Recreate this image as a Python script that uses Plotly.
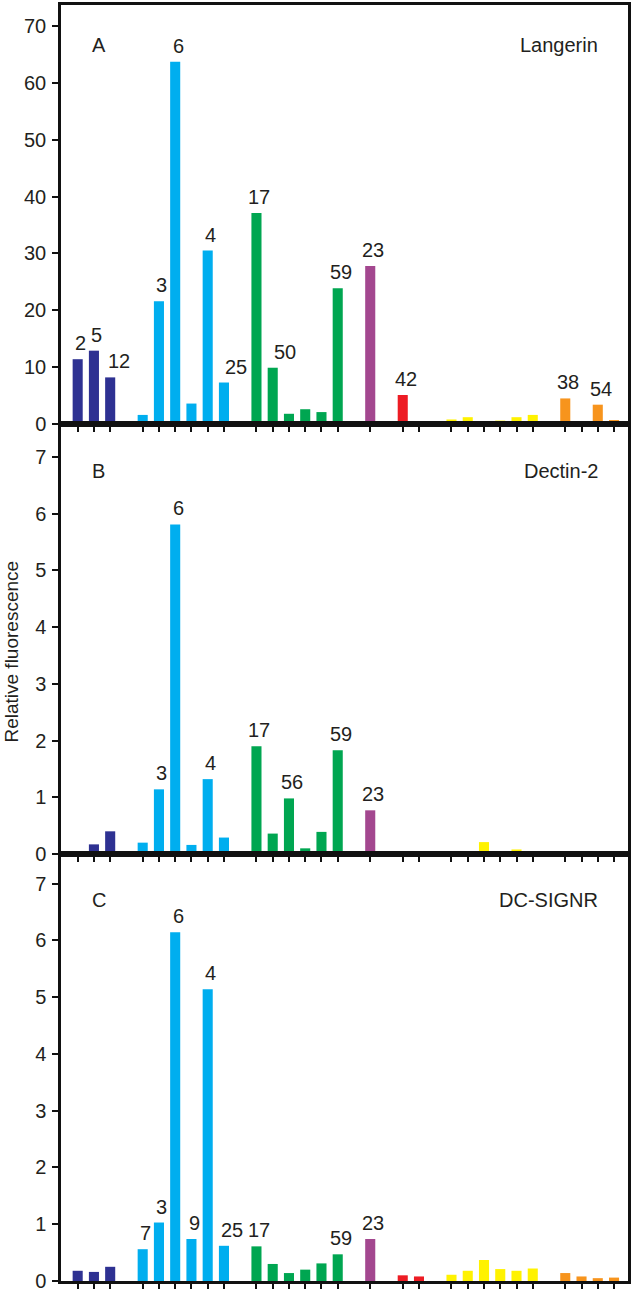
import plotly.graph_objects as go

# ---------------- data ----------------
group_sizes = [3, 6, 6, 1, 2, 6, 4]
group_colors = ["#2E3192", "#00AEEF", "#00A651", "#A3478F", "#ED1C24", "#FFF200", "#F7941D"]

panel_names = ["Langerin", "Dectin-2", "DC-SIGNR"]
panel_letters = ["A", "B", "C"]

langerin = [11.4, 12.9, 8.2, 1.6, 21.6, 63.7, 3.6, 30.5, 7.3, 37.1, 9.9, 1.8, 2.6, 2.1,
            23.9, 27.8, 5.1, 0.5, 0.8, 1.2, 0.4, 0.6, 1.2, 1.6, 4.5, 0.0, 3.4, 0.7]
dectin2 = [0.03, 0.17, 0.40, 0.20, 1.14, 5.81, 0.16, 1.32, 0.29, 1.90, 0.36, 0.98, 0.10, 0.39,
           1.83, 0.77, 0.05, 0.0, 0.02, 0.0, 0.21, 0.02, 0.08, 0.02, 0.03, 0.0, 0.0, 0.0]
dcsignr = [0.18, 0.16, 0.25, 0.56, 1.03, 6.14, 0.74, 5.14, 0.62, 0.61, 0.30, 0.14, 0.20, 0.31,
           0.47, 0.74, 0.10, 0.08, 0.11, 0.18, 0.37, 0.21, 0.18, 0.22, 0.14, 0.08, 0.05, 0.06]

langerin_labels = ["2", "5", "12", "", "3", "6", "", "4", "25", "17", "50", "", "", "",
                   "59", "23", "42", "", "", "", "", "", "", "", "38", "", "54", ""]
dectin2_labels = ["", "", "", "", "3", "6", "", "4", "", "17", "", "56", "", "",
                  "59", "23", "", "", "", "", "", "", "", "", "", "", "", ""]
dcsignr_labels = ["", "", "", "7", "3", "6", "9", "4", "25", "17", "", "", "", "",
                  "59", "23", "", "", "", "", "", "", "", "", "", "", "", ""]

y_ticks_a = [0, 10, 20, 30, 40, 50, 60, 70]
y_ticks_bc = [0, 1, 2, 3, 4, 5, 6, 7]

# ---------------- styling ----------------
FONT = "Arial, Liberation Sans, Helvetica, sans-serif"
TXT = "#231F20"
FS = 20
W, H = 633, 1294
ML, MR, MT, MB = 61, 4, 2, 13
plot_h = H - MT - MB
plot_w = W - ML - MR

# slot positions (one empty slot between groups)
xs, colors = [], []
pos = 0
for gi, n in enumerate(group_sizes):
    for _ in range(n):
        xs.append(pos)
        colors.append(group_colors[gi])
        pos += 1
    pos += 1

panel_vals = [langerin, dectin2, dcsignr]
panel_labels = [langerin_labels, dectin2_labels, dcsignr_labels]
panel_colors = [list(colors), list(colors), list(colors)]
panel_colors[1][18] = "#3A3A3A"  # small dark bar in Dectin-2 panel

# panel pixel extents (from top)
tops = [2, 422, 853]
bots = [422, 853, 1281]
yranges = [[0, 73.7], [0, 7.58], [0, 7.52]]

def frac(py):
    return (H - MB - py) / plot_h

fig = go.Figure()
extra_shift = {(0, "12"): 6, (0, "25"): 9, (0, "50"): 9, (2, "25"): 5}

for p in range(3):
    ax = "" if p == 0 else str(p + 1)
    fig.add_trace(go.Bar(
        x=xs, y=panel_vals[p], width=0.62,
        marker=dict(color=panel_colors[p], line=dict(width=0)),
        xaxis="x" + ax, yaxis="y" + ax, showlegend=False, hoverinfo="x+y"))
    dom = [frac(bots[p]), frac(tops[p])]
    xa = dict(domain=[0, 1], range=[-1.026, 33.86], showgrid=False, zeroline=False,
              showline=True, linewidth=2.5, linecolor="#111", mirror=True,
              tickvals=xs, ticks="outside", ticklen=5, tickwidth=2, tickcolor="#111",
              showticklabels=False, anchor="y" + ax)
    ya = dict(domain=dom, range=yranges[p], showgrid=False, zeroline=False,
              showline=True, linewidth=2.5, linecolor="#111", mirror=True,
              tickvals=y_ticks_a if p == 0 else y_ticks_bc,
              ticks="outside", ticklen=6, tickwidth=2, tickcolor="#111",
              ticklabelstandoff=2,
              tickfont=dict(family=FONT, size=FS, color=TXT), anchor="x" + ax)
    fig.update_layout(**{"xaxis" + ax: xa, "yaxis" + ax: ya})

    # bar number labels
    for i, lab in enumerate(panel_labels[p]):
        if lab:
            fig.add_annotation(x=xs[i], y=panel_vals[p][i], xref="x" + ax, yref="y" + ax,
                               text=lab, showarrow=False, yanchor="bottom", xanchor="center",
                               xshift=3 + extra_shift.get((p, lab), 0), yshift=3,
                               font=dict(family=FONT, size=FS, color=TXT))
    # panel letter and name
    ph = bots[p] - tops[p]
    ly = [42, 469, 899][p]
    fig.add_annotation(x=(99 - ML) / plot_w, y=1 - (ly - tops[p]) / ph,
                       xref="x" + ax + " domain", yref="y" + ax + " domain",
                       text=panel_letters[p], showarrow=False, xanchor="center", yanchor="middle",
                       font=dict(family=FONT, size=FS, color=TXT))
    fig.add_annotation(x=(601 - ML) / plot_w, y=1 - (ly - tops[p]) / ph,
                       xref="x" + ax + " domain", yref="y" + ax + " domain",
                       text=panel_names[p], showarrow=False, xanchor="right", yanchor="middle",
                       font=dict(family=FONT, size=FS, color=TXT))

fig.add_annotation(x=(11 - ML) / plot_w, y=frac(650), xref="paper", yref="paper",
                   text="Relative fluorescence", textangle=-90, showarrow=False,
                   xanchor="center", yanchor="middle",
                   font=dict(family=FONT, size=19, color=TXT))

fig.update_layout(width=W, height=H, margin=dict(l=ML, r=MR, t=MT, b=MB),
                  paper_bgcolor="white", plot_bgcolor="white",
                  font=dict(family=FONT, size=FS, color=TXT))

fig.write_html("out.html", config={"displayModeBar": False},
               post_script="document.body.style.margin='0';document.body.style.overflow='hidden';")
